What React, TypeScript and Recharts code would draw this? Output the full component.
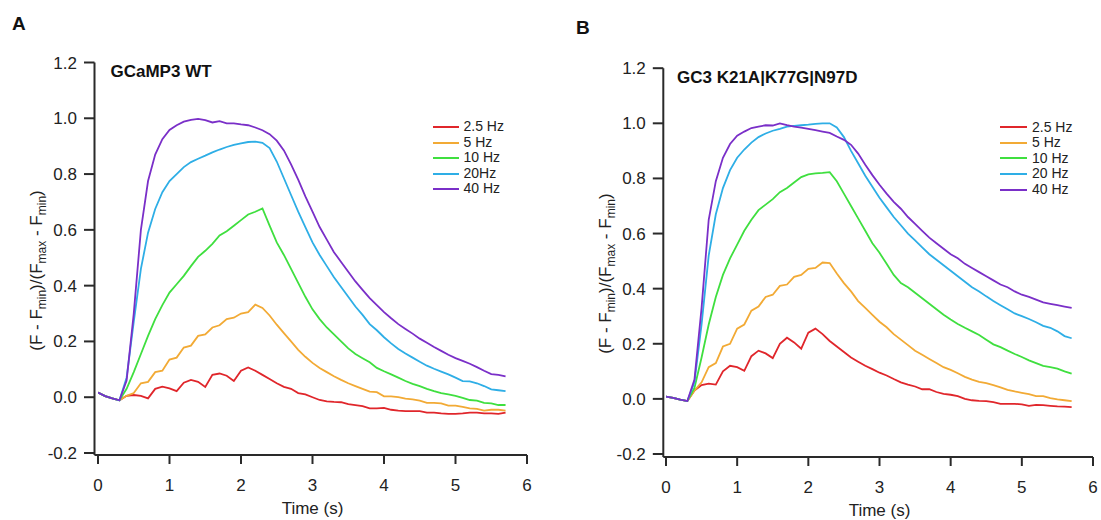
import React from 'react';
import { LineChart, Line, XAxis, YAxis, Legend } from 'recharts';

const FONT = '"Liberation Sans", Arial, Helvetica, sans-serif';

const TIME = [
  0, 0.1, 0.2, 0.3, 0.4, 0.5, 0.6, 0.7, 0.8, 0.9,
  1.0, 1.1, 1.2, 1.3, 1.4, 1.5, 1.6, 1.7, 1.8, 1.9,
  2.0, 2.1, 2.2, 2.3, 2.4, 2.5, 2.6, 2.7, 2.8, 2.9,
  3.0, 3.1, 3.2, 3.3, 3.4, 3.5, 3.6, 3.7, 3.8, 3.9,
  4.0, 4.1, 4.2, 4.3, 4.4, 4.5, 4.6, 4.7, 4.8, 4.9,
  5.0, 5.1, 5.2, 5.3, 5.4, 5.5, 5.6, 5.7,
];
const X_TICKS = [0, 1, 2, 3, 4, 5, 6];
const Y_TICKS = [-0.2, 0, 0.2, 0.4, 0.6, 0.8, 1.0, 1.2];

const KEYS = ['f25', 'f5', 'f10', 'f20', 'f40'];
const COLORS = ['#e0262b', '#f2aa35', '#3fdf3f', '#2eaee6', '#7a2fc8'];
const LABELS_A = ['2.5 Hz', '5 Hz', '10 Hz', '20Hz', '40 Hz'];
const LABELS_B = ['2.5 Hz', '5 Hz', '10 Hz', '20 Hz', '40 Hz'];

// Panel A: GCaMP3 WT
const A_25 = [
  0.017, 0.004, -0.004, -0.011, 0.005, 0.008, 0.005, -0.004, 0.03, 0.038,
  0.032, 0.022, 0.052, 0.062, 0.055, 0.037, 0.08, 0.085, 0.077, 0.058,
  0.095, 0.107, 0.095, 0.08, 0.065, 0.05, 0.037, 0.03, 0.015, 0.01,
  0.0, -0.01, -0.015, -0.017, -0.018, -0.025, -0.028, -0.032, -0.04, -0.04,
  -0.038, -0.045, -0.048, -0.05, -0.05, -0.05, -0.055, -0.055, -0.058, -0.06,
  -0.06, -0.058, -0.055, -0.055, -0.058, -0.058, -0.06, -0.055,
];
const A_5 = [
  0.017, 0.004, -0.004, -0.011, 0.005, 0.015, 0.05, 0.055, 0.09, 0.095,
  0.135, 0.142, 0.178, 0.185, 0.22, 0.225, 0.25, 0.258, 0.28, 0.285,
  0.3, 0.305, 0.332, 0.32, 0.293, 0.26, 0.23, 0.2, 0.17, 0.145,
  0.123, 0.105, 0.09, 0.075, 0.062, 0.05, 0.04, 0.03, 0.02, 0.018,
  0.003, 0.003, 0.0, -0.005, -0.008, -0.012, -0.02, -0.02, -0.022, -0.03,
  -0.03, -0.035, -0.04, -0.042, -0.048, -0.045, -0.045, -0.048,
];
const A_10 = [
  0.017, 0.004, -0.004, -0.011, 0.03, 0.09, 0.155, 0.22, 0.28, 0.33,
  0.375, 0.405, 0.435, 0.47, 0.503, 0.525, 0.55, 0.58, 0.595, 0.615,
  0.635, 0.655, 0.665, 0.677, 0.615, 0.555, 0.51, 0.46, 0.41, 0.36,
  0.315, 0.28, 0.25, 0.225, 0.2, 0.175, 0.155, 0.14, 0.125, 0.105,
  0.093, 0.082, 0.07, 0.058, 0.048, 0.04, 0.03, 0.022, 0.015, 0.01,
  0.005, -0.002, -0.01, -0.012, -0.02, -0.022, -0.028, -0.028,
];
const A_20 = [
  0.017, 0.004, -0.004, -0.011, 0.07, 0.27, 0.46, 0.59, 0.675, 0.735,
  0.775, 0.8, 0.825, 0.843, 0.855, 0.866, 0.878, 0.888, 0.897, 0.905,
  0.91, 0.915, 0.916, 0.912, 0.893, 0.845, 0.785, 0.725, 0.665, 0.61,
  0.555, 0.51, 0.47, 0.43, 0.395, 0.36, 0.325, 0.295, 0.262, 0.24,
  0.215, 0.193, 0.173, 0.157, 0.142, 0.127, 0.113, 0.102, 0.092, 0.082,
  0.07, 0.058, 0.057, 0.05, 0.04, 0.028, 0.025, 0.022,
];
const A_40 = [
  0.017, 0.004, -0.004, -0.011, 0.06, 0.3, 0.6, 0.775, 0.87, 0.925,
  0.958, 0.975, 0.988, 0.994, 0.998, 0.993, 0.985, 0.99, 0.982, 0.982,
  0.978, 0.975, 0.967, 0.957, 0.943, 0.92, 0.885, 0.835, 0.78, 0.72,
  0.665, 0.61, 0.565, 0.52, 0.485, 0.45, 0.415, 0.385, 0.355, 0.33,
  0.305, 0.283, 0.262, 0.245, 0.228, 0.21, 0.195, 0.18, 0.166, 0.152,
  0.14, 0.13, 0.12, 0.108, 0.095, 0.083, 0.08, 0.075,
];

// Panel B: GC3 K21A|K77G|N97D
const B_25 = [
  0.008, 0.004, -0.003, -0.008, 0.03, 0.05, 0.055, 0.052, 0.1, 0.12,
  0.115, 0.102, 0.155, 0.175, 0.165, 0.148, 0.2, 0.222, 0.205, 0.182,
  0.24, 0.255, 0.235, 0.21, 0.19, 0.17, 0.15, 0.135, 0.12, 0.108,
  0.095, 0.085, 0.072, 0.06, 0.052, 0.045, 0.035, 0.035, 0.025, 0.018,
  0.015, 0.01, 0.0, -0.005, -0.007, -0.008, -0.012, -0.018, -0.018, -0.018,
  -0.02, -0.025, -0.022, -0.023, -0.025, -0.027, -0.028, -0.03,
];
const B_5 = [
  0.008, 0.004, -0.003, -0.008, 0.03, 0.06, 0.115, 0.13, 0.19, 0.2,
  0.255, 0.27, 0.32, 0.335, 0.37, 0.378, 0.41, 0.415, 0.443, 0.45,
  0.472, 0.475, 0.495, 0.493, 0.455, 0.42, 0.39, 0.355, 0.33, 0.305,
  0.28, 0.26, 0.235, 0.215, 0.195, 0.175, 0.16, 0.145, 0.13, 0.115,
  0.105, 0.093, 0.08, 0.07, 0.062, 0.057, 0.05, 0.042, 0.033, 0.027,
  0.022, 0.017, 0.01, 0.01, 0.003, -0.002, -0.005, -0.008,
];
const B_10 = [
  0.008, 0.004, -0.003, -0.008, 0.04, 0.15, 0.27, 0.37, 0.45, 0.51,
  0.56, 0.61, 0.65, 0.685, 0.705, 0.725, 0.75, 0.765, 0.785, 0.805,
  0.815, 0.818, 0.82, 0.823, 0.79, 0.745, 0.7, 0.655, 0.61, 0.565,
  0.53, 0.49, 0.45, 0.42, 0.405, 0.385, 0.365, 0.345, 0.325, 0.305,
  0.288, 0.272, 0.258, 0.245, 0.232, 0.215, 0.198, 0.188, 0.175, 0.163,
  0.152, 0.14, 0.13, 0.12, 0.115, 0.11, 0.1, 0.092,
];
const B_20 = [
  0.008, 0.004, -0.003, -0.008, 0.06, 0.27, 0.52, 0.67, 0.765, 0.83,
  0.875, 0.905, 0.93, 0.95, 0.963, 0.973, 0.98, 0.988, 0.991, 0.993,
  0.995, 0.998, 1.0, 1.0, 0.985, 0.95, 0.9, 0.855, 0.81, 0.77,
  0.73, 0.695, 0.66, 0.63, 0.6, 0.575, 0.55, 0.525, 0.505, 0.485,
  0.465, 0.445, 0.425, 0.405, 0.39, 0.372, 0.355, 0.34, 0.325, 0.31,
  0.3, 0.29, 0.278, 0.265, 0.258, 0.245, 0.228, 0.22,
];
const B_40 = [
  0.008, 0.004, -0.003, -0.008, 0.07, 0.33, 0.65, 0.79, 0.875, 0.925,
  0.955, 0.97, 0.983, 0.988, 0.993, 0.992, 1.0, 0.993, 0.988, 0.984,
  0.98, 0.975, 0.97, 0.965, 0.952, 0.94, 0.922, 0.89, 0.85, 0.812,
  0.777, 0.745, 0.715, 0.69, 0.66, 0.635, 0.61, 0.585, 0.565, 0.545,
  0.525, 0.51, 0.49, 0.475, 0.46, 0.445, 0.43, 0.415, 0.405, 0.39,
  0.378, 0.37, 0.36, 0.35, 0.345, 0.34, 0.335, 0.33,
];

function buildRows(series: number[][]) {
  return TIME.map((t, i) => {
    const row: Record<string, number> = { t };
    KEYS.forEach((k, j) => {
      row[k] = series[j][i];
    });
    return row;
  });
}

const DATA_A = buildRows([A_25, A_5, A_10, A_20, A_40]);
const DATA_B = buildRows([B_25, B_5, B_10, B_20, B_40]);

const AXIS_COLOR = '#2a2a2a';

type PanelProps = {
  data: Record<string, number>[];
  labels: string[];
  left: number;
  width: number;
  yAxisWidth: number;
  top: number;
  right: number;
  bottom: number;
  padLeft: number;
  padBottom: number;
  legendLeft: number;
  legendTop: number;
  legendLine: number;
  rowH: number;
};

function LegendBox({ labels, rowH, lineW }: { labels: string[]; rowH: number; lineW: number }) {
  return (
    <div style={{ fontFamily: FONT, fontSize: 14, color: '#222' }}>
      {labels.map((label, i) => (
        <div
          key={label}
          style={{ display: 'flex', alignItems: 'center', height: rowH, whiteSpace: 'nowrap' }}
        >
          <div style={{ width: lineW, height: 2, background: COLORS[i], marginRight: 5 }} />
          <span style={{ lineHeight: `${rowH}px` }}>{label}</span>
        </div>
      ))}
    </div>
  );
}

function Panel(props: PanelProps) {
  const {
    data, labels, left, width, yAxisWidth, top, right, bottom, padLeft, padBottom,
    legendLeft, legendTop, legendLine, rowH,
  } = props;
  return (
    <div style={{ position: 'absolute', left, top: 0 }}>
      <LineChart
        width={width}
        height={520}
        data={data}
        margin={{ top, right, bottom, left: 0 }}
      >
        <XAxis
          dataKey="t"
          type="number"
          domain={[0, 6]}
          ticks={X_TICKS}
          allowDataOverflow
          height={40}
          padding={{ left: padLeft, right: 0 }}
          axisLine={{ stroke: AXIS_COLOR, strokeWidth: 2 }}
          tickLine={{ stroke: AXIS_COLOR, strokeWidth: 2 }}
          tickSize={9}
          tickMargin={15}
          tick={{ fontSize: 17, fill: '#222', fontFamily: FONT }}
        />
        <YAxis
          type="number"
          domain={[-0.2, 1.2]}
          ticks={Y_TICKS}
          allowDataOverflow
          width={yAxisWidth}
          padding={{ top: 0, bottom: padBottom }}
          tickFormatter={(v: number) => v.toFixed(1)}
          axisLine={{ stroke: AXIS_COLOR, strokeWidth: 2 }}
          tickLine={{ stroke: AXIS_COLOR, strokeWidth: 2 }}
          tickSize={10.5}
          tickMargin={7}
          tick={{ fontSize: 17, fill: '#222', fontFamily: FONT }}
        />
        {KEYS.map((k, i) => (
          <Line
            key={k}
            dataKey={k}
            name={labels[i]}
            type="linear"
            stroke={COLORS[i]}
            strokeWidth={1.8}
            dot={false}
            activeDot={false}
            isAnimationActive={false}
          />
        ))}
        <Legend
          layout="horizontal"
          align="center"
          verticalAlign="middle"
          wrapperStyle={{ left: legendLeft, top: legendTop, width: 110, height: rowH * 5 }}
          content={() => <LegendBox labels={labels} rowH={rowH} lineW={legendLine} />}
        />
      </LineChart>
    </div>
  );
}

function YLabel({ x, y }: { x: number; y: number }) {
  return (
    <text
      x={x}
      y={y}
      transform={`rotate(-90, ${x}, ${y})`}
      textAnchor="middle"
      fontFamily={FONT}
      fontSize={17}
      fill="#222"
    >
      (F - F
      <tspan fontSize={12} dy={4}>min</tspan>
      <tspan dy={-4}>)/(F</tspan>
      <tspan fontSize={12} dy={4}>max</tspan>
      <tspan dy={-4}> - F</tspan>
      <tspan fontSize={12} dy={4}>min</tspan>
      <tspan dy={-4}>)</tspan>
    </text>
  );
}

export default function App() {
  return (
    <div style={{ position: 'absolute', left: 0, top: 0, width: 1101, height: 520, background: '#fff' }}>
      <Panel
        data={DATA_A}
        labels={LABELS_A}
        left={0}
        width={560}
        yAxisWidth={94.5}
        top={62.5}
        right={33}
        bottom={25}
        padLeft={3.5}
        padBottom={2}
        legendLeft={432.5}
        legendTop={119.3}
        legendLine={26}
        rowH={15.5}
      />
      <Panel
        data={DATA_B}
        labels={LABELS_B}
        left={560}
        width={541}
        yAxisWidth={103.3}
        top={68.2}
        right={8}
        bottom={23}
        padLeft={2.7}
        padBottom={3}
        legendLeft={440}
        legendTop={119.5}
        legendLine={27}
        rowH={15.6}
      />
      <svg
        width={1101}
        height={520}
        style={{ position: 'absolute', left: 0, top: 0, pointerEvents: 'none' }}
      >
        <text x={12} y={29.5} fontFamily={FONT} fontSize={19} fontWeight="bold" fill="#111">A</text>
        <text x={576} y={34} fontFamily={FONT} fontSize={19} fontWeight="bold" fill="#111">B</text>
        <text x={110.5} y={77} fontFamily={FONT} fontSize={17} fontWeight="bold" fill="#111">GCaMP3 WT</text>
        <text x={677} y={83} fontFamily={FONT} fontSize={17} fontWeight="bold" fill="#111">GC3 K21A|K77G|N97D</text>
        <YLabel x={42} y={270.5} />
        <YLabel x={610.8} y={273.6} />
        <text x={312.5} y={514} textAnchor="middle" fontFamily={FONT} fontSize={17} fill="#222">Time (s)</text>
        <text x={879.5} y={516} textAnchor="middle" fontFamily={FONT} fontSize={17} fill="#222">Time (s)</text>
      </svg>
    </div>
  );
}
